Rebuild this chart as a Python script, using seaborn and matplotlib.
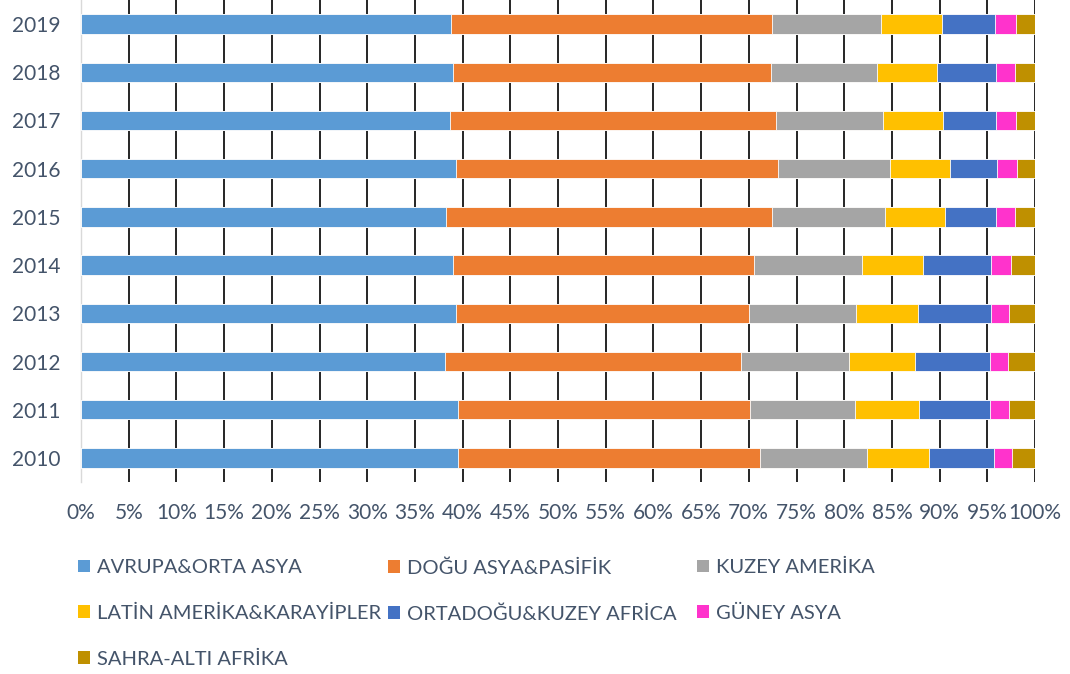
import matplotlib
matplotlib.use("Agg")
import matplotlib.pyplot as plt
import matplotlib.patches as mpatches
from matplotlib.ticker import FuncFormatter, MultipleLocator
import numpy as np
import pandas as pd
import seaborn as sns

years = ["2010", "2011", "2012", "2013", "2014", "2015", "2016", "2017", "2018", "2019"]
regions = ["AVRUPA&ORTA ASYA", "DOĞU ASYA&PASİFİK", "KUZEY AMERİKA",
           "LATİN AMERİKA&KARAYİPLER", "ORTADOĞU&KUZEY AFRİCA", "GÜNEY ASYA",
           "SAHRA-ALTI AFRİKA"]
avrupa     = [39.5, 39.5, 38.2, 39.3, 39.0, 38.3, 39.3, 38.7, 39.0, 38.8]
dogu_asya  = [31.7, 30.6, 31.0, 30.7, 31.5, 34.1, 33.8, 34.2, 33.3, 33.6]
kuzey_am   = [11.2, 11.0, 11.3, 11.2, 11.4, 11.9, 11.7, 11.2, 11.1, 11.5]
latin_am   = [6.5, 6.7, 6.9, 6.5, 6.4, 6.3, 6.3, 6.3, 6.3, 6.4]
ortadogu   = [6.8, 7.5, 7.9, 7.7, 7.1, 5.3, 4.9, 5.5, 6.2, 5.5]
guney_asya = [1.9, 2.0, 1.9, 1.9, 2.1, 2.0, 2.1, 2.1, 2.0, 2.2]
sahra      = [2.4, 2.7, 2.8, 2.7, 2.5, 2.1, 1.9, 2.0, 2.1, 2.0]
colors = ["#5B9BD5", "#ED7D31", "#A5A5A5", "#FFC000", "#4472C4", "#FF33CC", "#BF9000"]

series = [avrupa, dogu_asya, kuzey_am, latin_am, ortadogu, guney_asya, sahra]
df = pd.DataFrame(np.array(series).T, columns=regions, index=years)
df = df.div(df.sum(axis=1), axis=0) * 100
cum = df.cumsum(axis=1)

sns.set_theme(style="white")
plt.rcParams["font.family"] = ["Lato", "DejaVu Sans"]
text_color = "#44546A"

fig = plt.figure(figsize=(10.70, 6.74), dpi=100)
ax = fig.add_axes([81/1070, 1 - 482/674, (1035-81)/1070, 482/674])

order = years[::-1]
long = cum.reset_index().rename(columns={"index": "year"})
for i in range(len(regions) - 1, -1, -1):
    sns.barplot(data=long, x=regions[i], y="year", order=order, orient="h",
                color=colors[i], saturation=1, width=0.4, ax=ax,
                edgecolor="white", linewidth=0.6, zorder=3)

ax.set_xlim(0, 100)
ax.set_ylim(9.5, -0.5)
ax.xaxis.set_major_locator(MultipleLocator(5))
ax.xaxis.set_major_formatter(FuncFormatter(lambda v, p: f"{int(round(v))}%"))
ax.grid(axis="x", color="black", linewidth=1.2, zorder=0)
ax.set_axisbelow(True)
ax.set_xlabel("")
ax.set_ylabel("")
for s in ["top", "right", "bottom"]:
    ax.spines[s].set_visible(False)
ax.spines["left"].set_color("#D9D9D9")
ax.spines["left"].set_linewidth(1)
ax.tick_params(axis="both", length=0, labelsize=15, colors=text_color)
ax.tick_params(axis="x", pad=15)
ax.tick_params(axis="y", pad=15)

# legend in three columns, row-major order like the reference
col_items = [[0, 3, 6], [1, 4], [2, 5]]
col_x = [78/1070, 388/1070, 697/1070]
for cx, items in zip(col_x, col_items):
    handles = [mpatches.Patch(facecolor=colors[k], edgecolor="none") for k in items]
    labels = [regions[k] for k in items]
    leg = fig.legend(handles, labels, loc="upper left",
                     bbox_to_anchor=(cx, 1 - 559/674), frameon=False,
                     fontsize=14.5, handlelength=0.6, handleheight=0.6,
                     handletextpad=0.35, labelspacing=1.42, borderaxespad=0,
                     borderpad=0)
    for t in leg.get_texts():
        t.set_color(text_color)

fig.savefig("out.png", dpi=100)
